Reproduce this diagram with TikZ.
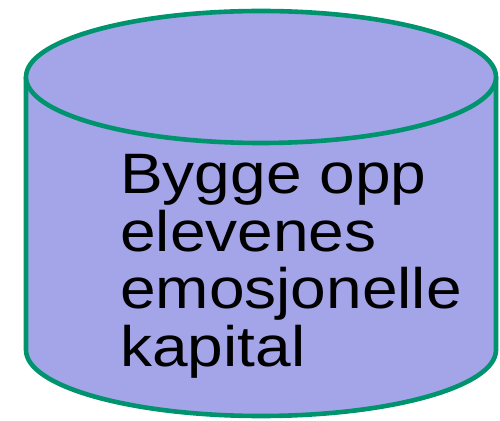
\documentclass[tikz,border=0pt]{standalone}
\usepackage{fontspec}
\setmainfont{Liberation Sans}
\definecolor{cylfill}{RGB}{163,165,232}
\definecolor{cylline}{RGB}{0,148,110}

\begin{document}
\begin{tikzpicture}[x=1pt,y=1pt,
  cylside/.style={draw=cylline,fill=cylfill,line width=4.6pt,line join=round},
  cyltext/.style={anchor=north west,inner sep=0pt,align=left,xscale=1.123,transform shape,
    font=\fontsize{57}{57.7}\selectfont}]
  \useasboundingbox (0,0) rectangle (500,420);
  \path[cylside] (26,343) -- (26,70)
    arc[start angle=180,end angle=360,x radius=235,y radius=66] -- (496,343);
  \path[cylside] (261,343) ellipse [x radius=235,y radius=66];
  \node[cyltext] (kapital) at (120,266) {Bygge opp\\elevenes\\emosjonelle\\kapital};
\end{tikzpicture}
\end{document}
